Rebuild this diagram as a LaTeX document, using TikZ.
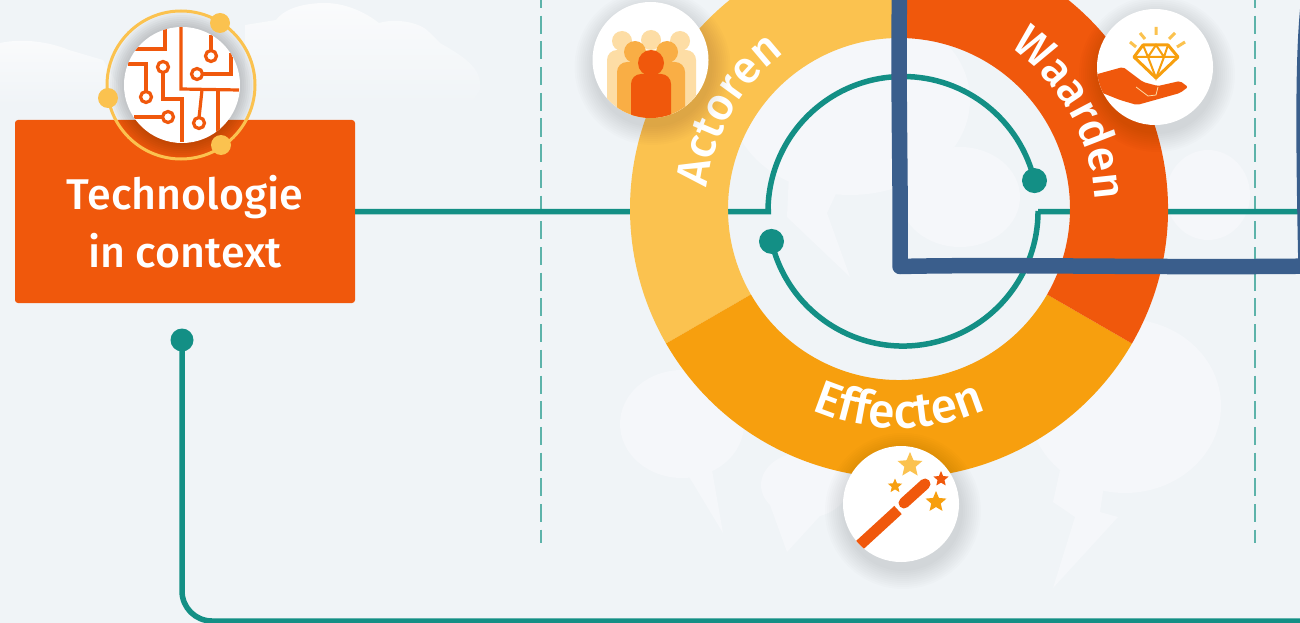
\documentclass[tikz,border=0pt]{standalone}
\usepackage{xcolor}
\usepackage{fontspec}
\setmainfont[UprightFont=* Medium]{Fira Sans}
\usetikzlibrary{arrows.meta,positioning,shapes.geometric,calc,decorations.text}
\definecolor{softbg}{HTML}{F0F4F7}
\definecolor{softcloud}{HTML}{F5F7FA}
\definecolor{softtop}{HTML}{FAFBFC}
\definecolor{techorange}{HTML}{F0580C}
\definecolor{softgold}{HTML}{FBC24F}
\definecolor{softamber}{HTML}{F79F0E}
\definecolor{crowdlight}{HTML}{FDDDA5}
\definecolor{crowdmid}{HTML}{F9AE45}
\definecolor{linkteal}{HTML}{138F85}
\definecolor{dashteal}{HTML}{5DB3AA}
\definecolor{penblue}{HTML}{3A5E8C}

\begin{document}
\begin{tikzpicture}[x=1pt,y=1pt,>=Latex]
\tikzstyle{techbox}=[fill=techorange,rounded corners=3pt,minimum width=340pt,minimum height=183pt,align=center,text=white,inner sep=0pt,font=\fontsize{43}{58}\selectfont]
\tikzstyle{linkdot}=[circle,fill=linkteal,inner sep=0pt,minimum size=25pt]
\tikzstyle{golddot}=[circle,fill=softgold,inner sep=0pt,minimum size=20pt]
\tikzstyle{iconcircle}=[circle,fill=white,inner sep=0pt,minimum size=116pt]
\tikzstyle{link}=[draw=linkteal,line width=5.5pt]
\tikzstyle{divider}=[draw=dashteal,line width=2pt,dash pattern=on 18pt off 7.7pt,dash phase=10pt]
\tikzstyle{circuit}=[draw=techorange,line width=3.2pt]
\tikzstyle{circuitend}=[circle,draw=techorange,fill=white,line width=3.2pt,inner sep=0pt,minimum size=11pt]
\tikzstyle{penline}=[draw=penblue,line width=15.5pt,line join=round]
\newcommand{\ringsector}[3]{%
\fill[#3] ($(ringc)+(#1:269)$) arc[start angle=#1,end angle=#2,radius=269] -- ($(ringc)+(#2:171)$) arc[start angle=#2,end angle=#1,radius=171] -- cycle;
}
\newcommand{\ringlabel}[5]{%
\path[decorate,decoration={text along path,text align=center,text={|\fontsize{#4}{50}\selectfont\color{white}|#5}}] ($(ringc)+(#1:#3)$) arc[start angle=#1,end angle=#2,radius=#3];
}
\newcommand{\iconshadow}[3]{%
\foreach \grow in {2,4,...,20} {\fill[black,opacity=0.013] (#1+2,#2-7) circle (#3+\grow);}
}
\newcommand{\crowdperson}[6]{%
\fill[#6] (#1,#2) circle (#3);
\fill[#6] (#1-#4,-125) [rounded corners=10pt] -- (#1-#4,#5) -- (#1+#4,#5) [sharp corners] -- (#1+#4,-125) -- cycle;
}
\newcommand{\wandstar}[5]{%
\node[star,star points=5,star point ratio=2.2,fill=#5,inner sep=0pt,minimum size=#4] (#1) at (#2,#3) {};
}
\useasboundingbox (0,0) rectangle (1300,-623);
\clip (0,0) rectangle (1300,-623);
\fill[softbg] (0,0) rectangle (1300,-623);
% clouds and speech bubbles in the background
\shade[top color=softtop,bottom color=softbg] (0,-43) .. controls (23,-38) and (50,-42) .. (69,-50) -- (103,-60) -- (130,-105) -- (0,-105) -- cycle;
\shade[top color=softtop,bottom color=softbg] (245,-25) -- (276,-20) .. controls (285,-8) and (305,-3) .. (325,-3) .. controls (345,-3) and (365,-12) .. (379,-23) .. controls (395,-18) and (420,-22) .. (429,-32) -- (440,-43) .. controls (470,-60) and (482,-70) .. (480,-90) -- (470,-105) -- (245,-105) -- cycle;
\fill[softcloud] (682,-424) ellipse (62 and 54);
\fill[softcloud] (685,-470) -- (723,-533) -- (712,-470) -- cycle;
\fill[softcloud] (805,-485) ellipse (44 and 33);
\fill[softcloud] (770,-505) -- (787,-552) -- (830,-505) -- cycle;
\fill[softcloud] (1125,-406) ellipse (96 and 87);
\fill[softcloud] (1060,-470) -- (1053,-502) -- (1075,-517) -- (1053,-588) -- (1118,-517) -- (1100,-512) -- (1104,-485) -- cycle;
\fill[softcloud] (960,-197) ellipse (60 and 50);
\fill[softcloud] (1208,-195) ellipse (42 and 45);
\fill[softcloud] (850,-100) ellipse (120 and 95);
\fill[softcloud] (790,-150) -- (787,-217) -- (850,-277) -- (827,-213) -- (847,-170) -- cycle;
% dashed dividers
\coordinate (divonetop) at (541,0);
\coordinate (divonebottom) at (541,-543);
\coordinate (divtwotop) at (1255,0);
\coordinate (divtwobottom) at (1255,-543);
\draw[divider] (divonetop) -- (divonebottom);
\draw[divider] (divtwotop) -- (divtwobottom);
% connectors
\node[techbox] (techbox) at (185,-211.5) {\rule{0pt}{55pt}Technologie\\in context};
\coordinate (ringc) at (899,-209);
\coordinate (linkleft) at (771,-211.5);
\coordinate (linkright) at (1300,-211.5);
\coordinate (linkbottom) at (1300,-621);
\node[linkdot] (dotupper) at (1034.5,-180.6) {};
\node[linkdot] (dotlower) at (771.5,-241.4) {};
\node[linkdot,minimum size=23pt] (dotstart) at (182,-340) {};
\draw[link] (techbox.east) -- (linkleft) -- ++(-3,0) arc[start angle=180,end angle=13,radius=135];
\draw[link] (dotlower.center) arc[start angle=193,end angle=360,radius=135] |- (linkright);
\draw[link,rounded corners=30pt] (dotstart.center) |- (linkbottom);
% the ring
\ringsector{90}{210}{softgold}
\ringsector{210}{330}{softamber}
\ringsector{330}{450}{techorange}
\ringlabel{195}{105}{193}{45}{Actoren}
\ringlabel{89}{-31}{196}{45}{Waarden}
\ringlabel{-135}{-45}{219}{48}{Effecten}
% technology icon
\foreach \grow in {60,62,...,74} {\fill[black,opacity=0.022] (182,-85) circle (\grow);}
\draw[softgold,line width=3pt] (181,-85) circle (74);
\node[iconcircle] (techicon) at (182,-85) {};
\begin{scope}
\clip (techicon.center) circle (58);
\draw[circuit] (135,-49) -- (165,-49) -- (165,-29);
\draw[circuit] (128,-64) -- (146,-64) -- (146,-93);
\draw[circuit] (163,-72) -- (163,-99) -- (182,-99) -- (182,-142);
\draw[circuit] (181,-27) -- (181,-89) -- (239,-90);
\draw[circuit] (202,-90) -- (199,-118);
\draw[circuit] (218,-90) -- (218,-137);
\draw[circuit] (211,-35) -- (211,-51);
\draw[circuit] (202,-74) -- (231,-74) -- (231,-53);
\draw[circuit] (134,-117) -- (163,-117);
\node[circuitend] (circa) at (146,-97) {};
\node[circuitend] (circb) at (163,-67) {};
\node[circuitend] (circc) at (199,-123) {};
\node[circuitend] (circd) at (211,-56) {};
\node[circuitend] (circe) at (197,-74) {};
\node[circuitend] (circf) at (168,-117) {};
\end{scope}
\node[golddot] (goldtop) at (220,-23) {};
\node[golddot] (goldleft) at (108,-98) {};
\node[golddot] (goldbottom) at (221,-145) {};
% actors icon
\iconshadow{650.5}{-60}{58}
\node[iconcircle] (actoricon) at (650.5,-60) {};
\begin{scope}
\clip (actoricon.center) circle (58);
\crowdperson{622}{-41}{10}{15}{-50}{crowdlight}
\crowdperson{651}{-40}{10}{15}{-50}{crowdlight}
\crowdperson{680}{-41}{10}{16}{-50}{crowdlight}
\crowdperson{635}{-52}{11}{18}{-62}{crowdmid}
\crowdperson{667}{-52}{11}{18}{-62}{crowdmid}
\crowdperson{651}{-63}{13}{20}{-74}{techorange}
\end{scope}
% values icon
\iconshadow{1155}{-67}{58}
\node[iconcircle] (valueicon) at (1155,-67) {};
\begin{scope}
\clip (valueicon.center) circle (58);
\fill[techorange,rounded corners=2pt] (1094,-75) -- (1123,-67) -- (1143,-82) -- (1158,-86) -- (1180,-81) -- (1188,-87) -- (1180,-93) -- (1137,-105) -- (1120,-100) -- (1100,-92) -- cycle;
\draw[crowdlight,line width=0.8pt] (1136,-87) -- (1148,-96) -- (1156,-95) -- (1158,-87);
\draw[softamber,line width=3pt,line join=round] (1143,-45) -- (1168,-45) -- (1178,-57) -- (1156,-78) -- (1134,-57) -- cycle;
\draw[softamber,line width=2pt] (1134,-57) -- (1178,-57) (1143,-45) -- (1148,-57) -- (1156,-78) -- (1164,-57) -- (1168,-45) (1148,-57) -- (1156,-45) -- (1164,-57);
\draw[softgold,line width=3pt] (1130,-42) -- (1136,-47) (1140,-33) -- (1145,-39) (1156,-27) -- (1156,-35) (1175,-33) -- (1169,-39) (1185,-42) -- (1177,-47);
\end{scope}
% effects icon
\iconshadow{901}{-504}{58}
\node[iconcircle] (effecticon) at (901,-504) {};
\begin{scope}
\clip (effecticon.center) circle (58);
\draw[techorange,line width=11pt] (850,-554) -- (898,-510);
\draw[techorange,line width=11pt,line cap=round] (904,-503) -- (925,-484);
\wandstar{stara}{910}{-465}{26pt}{softgold}
\wandstar{starb}{895}{-486}{15pt}{softamber}
\wandstar{starc}{941}{-479}{16pt}{techorange}
\wandstar{stard}{936}{-502}{22pt}{softamber}
\end{scope}
% hand drawn frame on top
\draw[penline] (899.5,10) .. controls (898,-100) and (901,-190) .. (900,-266.5) .. controls (1000,-264) and (1150,-268) .. (1320,-266);
\draw[penline] (1310,10) .. controls (1303,-40) and (1303,-120) .. (1306,-266);
\end{tikzpicture}
\end{document}
